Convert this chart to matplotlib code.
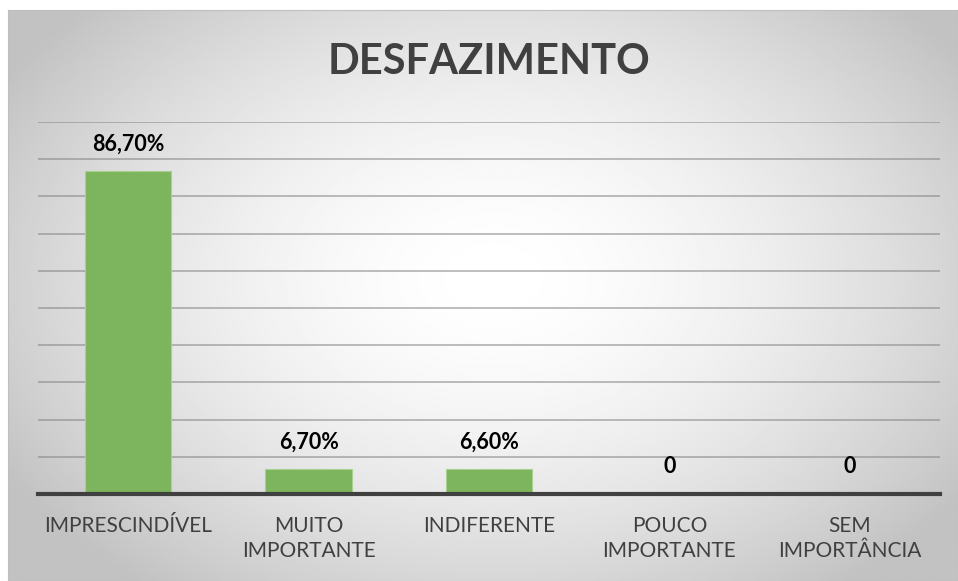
import numpy as np
import matplotlib.pyplot as plt

# data
categories = ["IMPRESCINDÍVEL", "MUITO\nIMPORTANTE", "INDIFERENTE", "POUCO\nIMPORTANTE", "SEM\nIMPORTÂNCIA"]
values = [86.7, 6.7, 6.6, 0, 0]
labels = ["86,70%", "6,70%", "6,60%", "0", "0"]

plt.rcParams['font.family'] = ['Lato', 'DejaVu Sans']

W, H = 958, 581
fig = plt.figure(figsize=(W / 100, H / 100), dpi=100)

# radial gradient background inside the chart frame
bg = fig.add_axes([8 / W, 0, 1 - 8 / W, 1 - 10 / H], zorder=0)
yy, xx = np.mgrid[0:300, 0:500]
cx, cy = 255, 140
r = np.sqrt(((xx - cx) / 500) ** 2 + ((yy - cy) / 340) ** 2)
shade = 1.0 - 0.24 * np.clip(r / 0.6, 0, 1) ** 1.7
bg.imshow(shade, cmap='gray', vmin=0, vmax=1, aspect='auto', interpolation='bilinear')
bg.set_xticks([])
bg.set_yticks([])
for s in bg.spines.values():
    s.set_color('#bfbfbf')

ax = fig.add_axes([38 / W, 1 - 494 / H, 902 / W, (494 - 122) / H], zorder=1)
ax.patch.set_alpha(0)
x = np.arange(len(categories))
bars = ax.bar(x, values, width=0.48, color='#7db45e', edgecolor='#a9d18e', linewidth=0.8, zorder=3)

ax.set_xlim(-0.5, len(categories) - 0.5)
ax.set_ylim(0, 100)
ax.set_yticks(np.arange(0, 101, 10))
ax.yaxis.grid(True, color='#808080', alpha=0.6, linewidth=1.2, zorder=0)
ax.tick_params(axis='y', left=False, labelleft=False)
ax.tick_params(axis='x', bottom=False, pad=12)
ax.set_xticks(x)
ax.set_xticklabels(categories, fontsize=15, color='#404040', linespacing=1.35)
for s in ['top', 'right', 'left']:
    ax.spines[s].set_visible(False)
ax.spines['bottom'].set_color('#404040')
ax.spines['bottom'].set_linewidth(3)
ax.spines['bottom'].set_zorder(4)

for xi, v, lab in zip(x, values, labels):
    ax.annotate(lab, (xi, v), xytext=(0, 12), textcoords='offset points',
                ha='center', va='bottom', fontsize=15.5, fontweight='bold', color='#000000')

fig.text(489 / W, 1 - 62 / H, "DESFAZIMENTO", ha='center', va='center',
         fontsize=30, fontweight='bold', color='#404040')

fig.savefig('out.png', dpi=100)
